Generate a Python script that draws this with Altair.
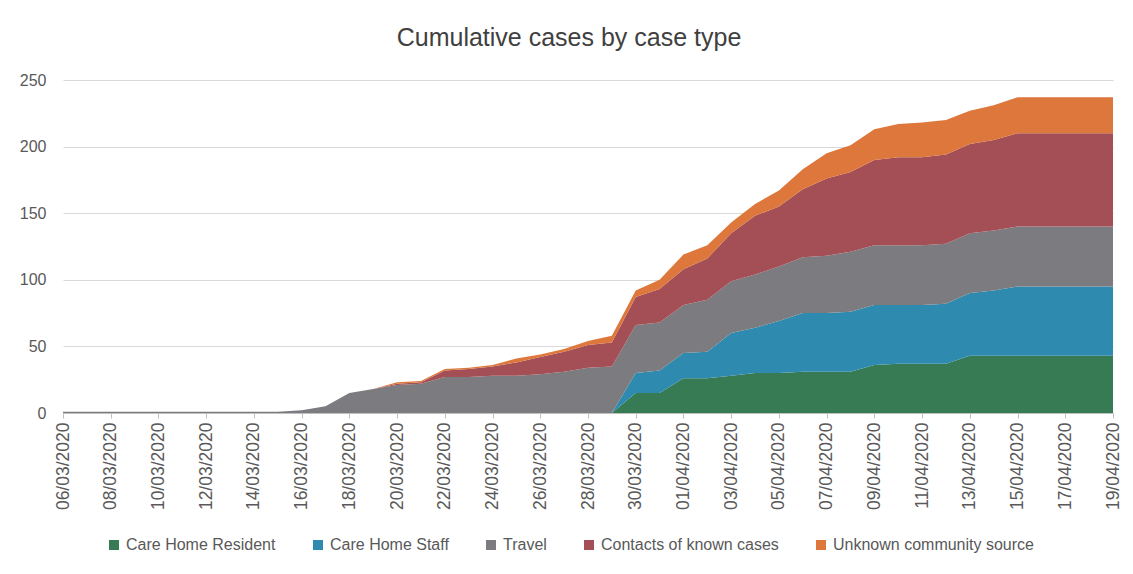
import altair as alt
import pandas as pd

dates = pd.date_range("2020-03-06", "2020-04-19", freq="D").strftime("%Y-%m-%d").tolist()

series_names = [
    "Care Home Resident",
    "Care Home Staff",
    "Travel",
    "Contacts of known cases",
    "Unknown community source",
]
series_colors = ["#367B54", "#2E8AAE", "#7C7B80", "#A44F55", "#DE773B"]

care_home_resident = [0] * 24 + [15, 15, 26, 26, 28, 30, 30, 31, 31, 31, 36, 37, 37, 37, 43, 43, 43, 43, 43, 43, 43]
care_home_staff = [0] * 24 + [15, 17, 19, 20, 32, 34, 39, 44, 44, 45, 45, 44, 44, 45, 47, 49, 52, 52, 52, 52, 52]
travel = [1] * 10 + [2, 5, 15, 18, 21, 22, 27, 27, 28, 28, 29, 31, 34, 35, 36, 36, 36, 39, 39, 40, 41, 42, 43, 45, 45,
                     45, 45, 45, 45, 45, 45, 45, 45, 45, 45]
contacts = [0] * 14 + [1, 1, 5, 6, 7, 10, 13, 15, 17, 18, 21, 25, 27, 31, 36, 44, 45, 51, 58, 60, 64, 66, 66, 67, 67,
                       68, 70, 70, 70, 70, 70]
unknown = [0] * 14 + [1, 1, 1, 1, 1, 3, 2, 2, 3, 5, 5, 7, 11, 10, 8, 9, 12, 15, 19, 20, 23, 25, 26, 26, 25,
                      26, 27, 27, 27, 27, 27]

tick_dates = dates[::2]
y_ticks = [0, 50, 100, 150, 200, 250]

values = [care_home_resident, care_home_staff, travel, contacts, unknown]
rows = []
for k, (name, vals) in enumerate(zip(series_names, values)):
    for d, v in zip(dates, vals):
        rows.append({"date": d, "series": name, "value": v, "k": k})
df = pd.DataFrame(rows)


def dt(s):
    y, m, d = s.split("-")
    return alt.DateTime(year=int(y), month=int(m), date=int(d), utc=True)


FONT = "Liberation Sans"
GREY = "#595959"

chart = (
    alt.Chart(df)
    .mark_area(opacity=1)
    .encode(
        x=alt.X(
            "date:T",
            scale=alt.Scale(type="utc", domain=[dt(dates[0]), dt(dates[-1])], nice=False),
            axis=alt.Axis(
                title=None,
                values=[dt(s) for s in tick_dates],
                labelExpr="utcFormat(datum.value, '%d/%m/%Y')",
                labelAngle=270,
                labelFontSize=17.5,
                labelColor=GREY,
                labelFont=FONT,
                labelPadding=4,
                tickSize=5,
                tickColor="#bfbfbf",
                domainColor="#bfbfbf",
                grid=False,
                labelOverlap=False,
            ),
        ),
        y=alt.Y(
            "value:Q",
            stack="zero",
            scale=alt.Scale(domain=[0, 250], nice=False),
            axis=alt.Axis(
                title=None,
                values=y_ticks,
                labelFontSize=16,
                labelColor=GREY,
                labelFont=FONT,
                labelPadding=17,
                ticks=False,
                domain=False,
                grid=True,
                gridColor="#d9d9d9",
            ),
        ),
        color=alt.Color(
            "series:N",
            sort=series_names,
            scale=alt.Scale(domain=series_names, range=series_colors),
            legend=alt.Legend(
                title=None,
                orient="none",
                direction="horizontal",
                legendX=43,
                legendY=457,
                symbolType="square",
                symbolSize=100,
                symbolStrokeWidth=0,
                labelFontSize=16,
                labelFont=FONT,
                labelColor=GREY,
                labelOffset=4,
                labelLimit=0,
                columnPadding=34,
                padding=0,
            ),
        ),
        order=alt.Order("k:Q", sort="ascending"),
    )
    .properties(
        width=1050,
        height=333,
        autosize=alt.AutoSizeParams(type="none"),
        padding={"left": 55, "top": 72, "right": 12, "bottom": 153},
        title=alt.TitleParams(
            "Cumulative cases by case type",
            fontSize=25,
            font=FONT,
            fontWeight="normal",
            color="#404040",
            anchor="middle",
            dx=-19,
            offset=21,
        ),
    )
    .configure_view(stroke=None)
)

chart.save("out.html", embed_options={"renderer": "svg", "actions": False})
